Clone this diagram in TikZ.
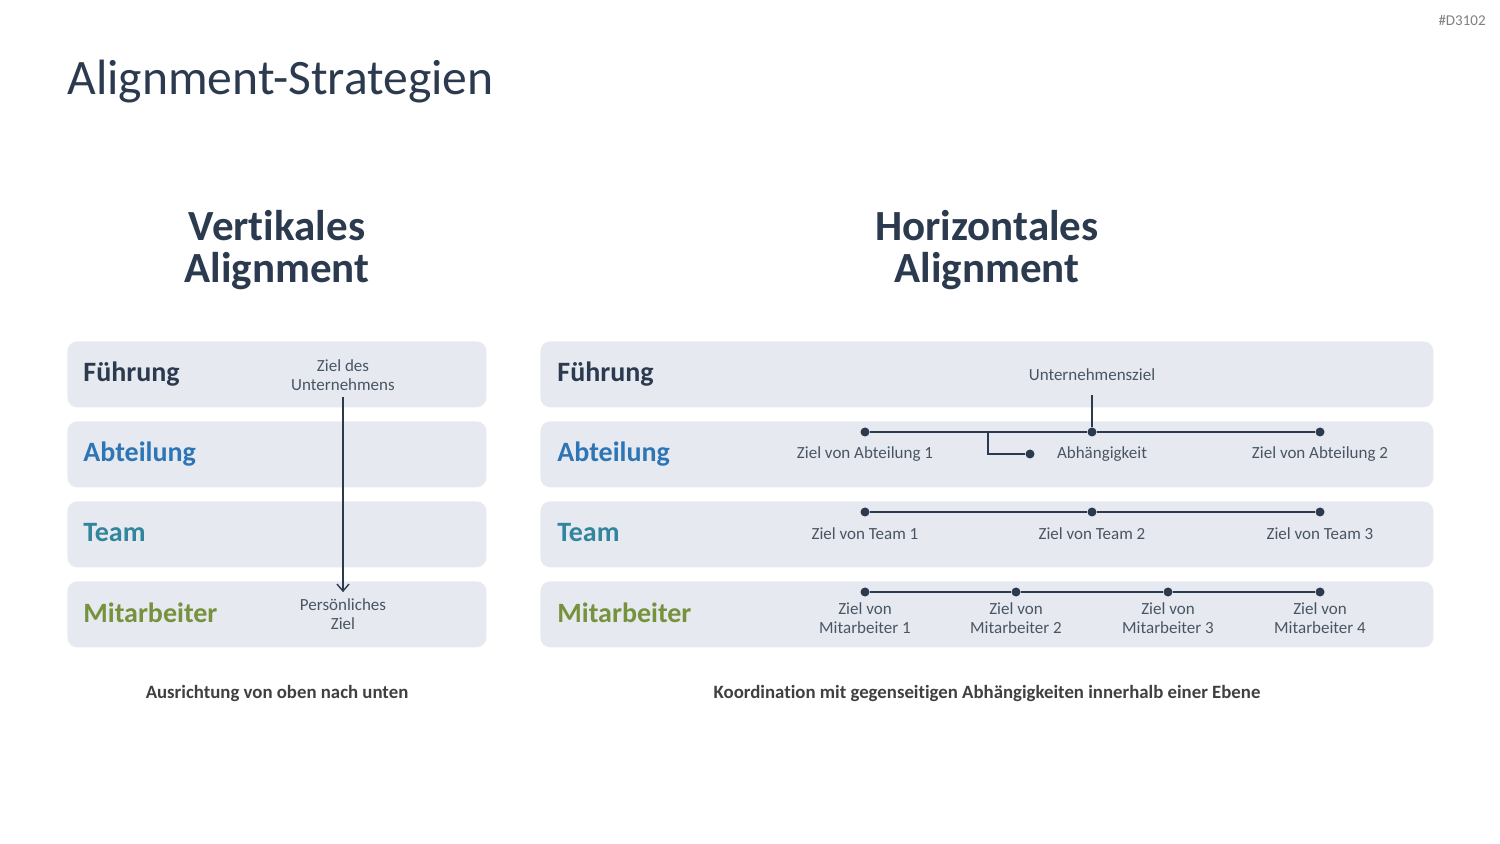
\documentclass[tikz,border=0pt]{standalone}
\usepackage{fontspec}
\setmainfont[Ligatures={NoCommon}]{Carlito}
\usetikzlibrary{arrows.meta}

\definecolor{rowfill}{HTML}{E6EAF0}
\definecolor{navy}{HTML}{2B3A4E}
\definecolor{deptblue}{HTML}{2E75B6}
\definecolor{teamteal}{HTML}{31859C}
\definecolor{staffgreen}{HTML}{76923C}
\definecolor{goalgray}{HTML}{4A5563}
\definecolor{capgray}{HTML}{404040}

\begin{document}
\begin{tikzpicture}[
    x=0.5pt, y=-0.5pt,
    rowbox/.style={rectangle, rounded corners=5pt, fill=rowfill,
                   minimum height=33pt, inner sep=0pt, anchor=north west},
    rowlabel/.style={anchor=base west, inner sep=0pt, font=\fontsize{14}{16}\selectfont\bfseries},
    goal/.style={align=center, text=goalgray, inner sep=1pt,
                 font=\fontsize{8.5}{9.5}\selectfont},
    dot/.style={circle, fill=navy, minimum size=4.5pt, inner sep=0pt},
    link/.style={draw=navy, line width=0.7pt},
    heading/.style={align=center, text=navy,
                    font=\fontsize{21.5}{21}\selectfont\bfseries},
    caption/.style={text=capgray, font=\fontsize{9.4}{11}\selectfont\bfseries}
]
    \useasboundingbox (0,0) rectangle (1500,844);
    \fill[white] (0,0) rectangle (1500,844);

    % title and tag
    \node[anchor=base west, inner sep=0pt, text=navy,
          font=\fontsize{24.8}{28}\selectfont] (title) at (67,95) {Alignment-Strategien};
    \node[anchor=east, inner sep=0pt, text=gray,
          font=\fontsize{7.5}{9}\selectfont] (tag) at (1486,20) {\#D3102};

    \node[heading] (vhead) at (277,250) {Vertikales\\Alignment};
    \node[heading] (hhead) at (987,250) {Horizontales\\Alignment};

    % rows
    \foreach \r/\y/\txt/\col in {1/341/Führung/navy, 2/421/Abteilung/deptblue,
                                 3/501/Team/teamteal, 4/581/Mitarbeiter/staffgreen} {
        \node[rowbox, minimum width=209.5pt] (L\r) at (67,\y) {};
        \node[rowbox, minimum width=446.5pt] (R\r) at (540,\y) {};
        \node[rowlabel, text=\col] (Llab\r) at (83,\y+41) {\txt};
        \node[rowlabel, text=\col] (Rlab\r) at (557,\y+41) {\txt};
    }

    % vertical
    \node[goal] (ziel) at (343,375) {Ziel des\\Unternehmens};
    \node[goal] (pers) at (343,614) {Persönliches\\Ziel};
    \draw[link, shorten <=2pt, shorten >=2pt, -{Straight Barb[length=3.5pt, width=6pt]}]
        (ziel) -- (pers);

    % horizontal
    \node[goal] (uz) at (1092,375) {Unternehmensziel};

    \node[dot] (a1) at (865,432) {};
    \node[dot] (a2) at (1092,432) {};
    \node[dot] (a3) at (1320,432) {};
    \node[dot] (dep) at (1030,454) {};
    \coordinate (br) at (988,432);
    \node[goal] (a1t) at (865,454) {Ziel von Abteilung 1};
    \node[goal] (dept) at (1102,454) {Abhängigkeit};
    \node[goal] (a3t) at (1320,454) {Ziel von Abteilung 2};

    \draw[link, shorten <=6pt] (uz) -- (a2);
    \draw[link] (a1) -- (a2) -- (a3);
    \draw[link] (br) |- (dep);

    \node[dot] (t1) at (865,512) {};
    \node[dot] (t2) at (1092,512) {};
    \node[dot] (t3) at (1320,512) {};
    \draw[link] (t1) -- (t2) -- (t3);
    \foreach \i/\x in {1/865,2/1092,3/1320}
        \node[goal] (t\i t) at (\x,534) {Ziel von Team \i};

    \foreach \i/\x in {1/865,2/1016,3/1168,4/1320} {
        \node[dot] (m\i) at (\x,592) {};
        \node[goal] (m\i t) at (\x,618) {Ziel von\\Mitarbeiter \i};
    }
    \draw[link] (m1) -- (m2) -- (m3) -- (m4);

    \node[caption] (vcap) at (277,693) {Ausrichtung von oben nach unten};
    \node[caption] (hcap) at (987,693) {Koordination mit gegenseitigen Abhängigkeiten innerhalb einer Ebene};

\end{tikzpicture}
\end{document}
